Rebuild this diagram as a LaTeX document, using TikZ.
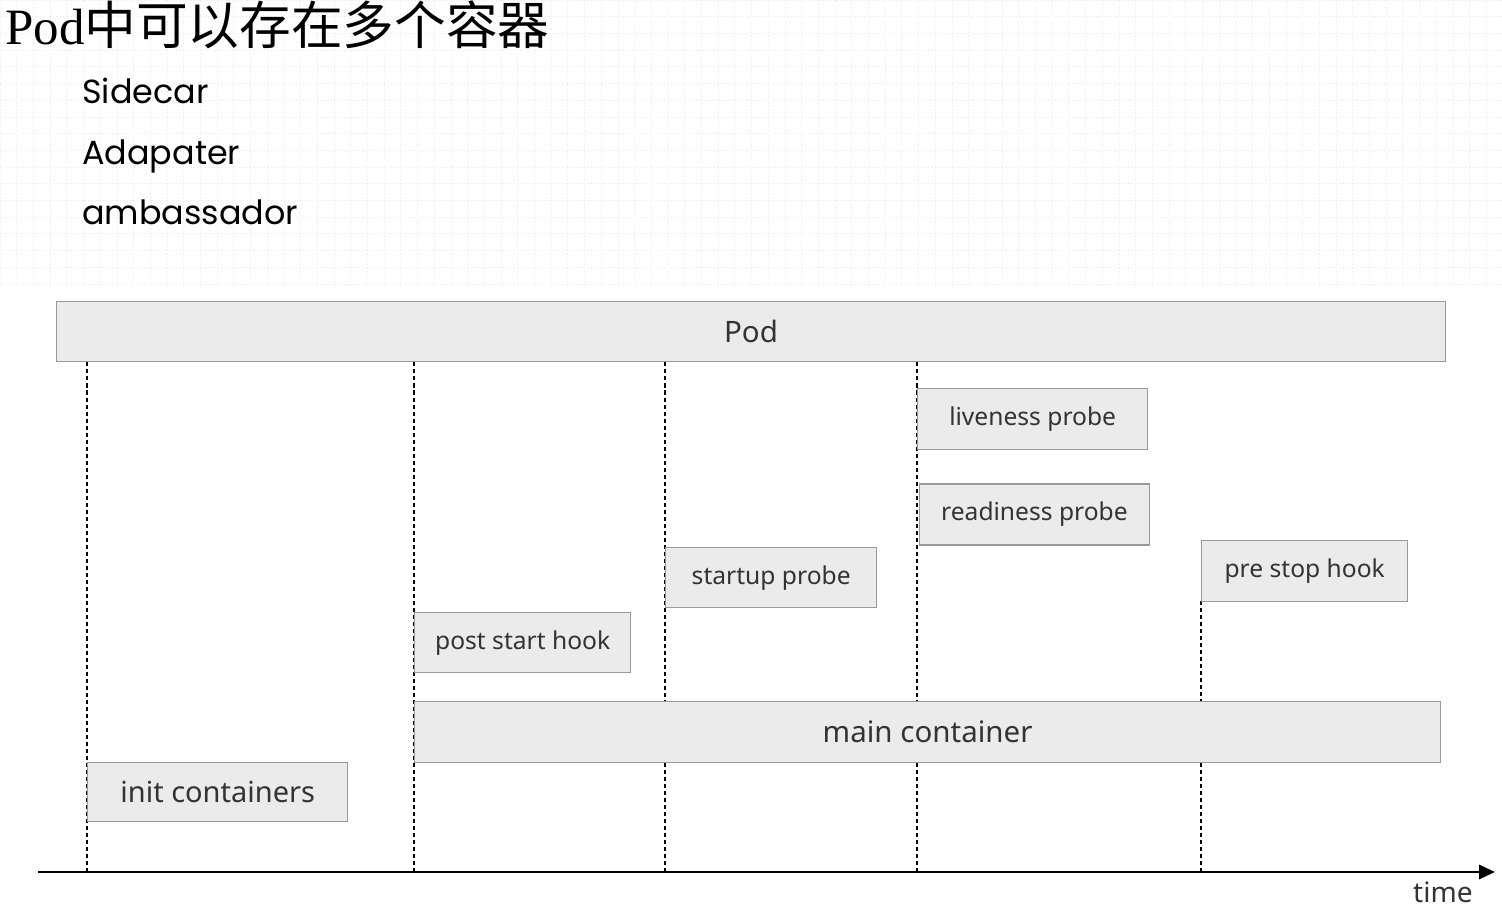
\documentclass[tikz,border=0pt]{standalone}
\usepackage{fontspec}
\setmainfont{Noto Sans}
\newfontfamily\cjk{Noto Sans CJK SC}
\newfontfamily\serif{Liberation Serif}
\newfontfamily\hand{Poppins}
\usetikzlibrary{arrows.meta,positioning}
\definecolor{boxfill}{HTML}{EBEBEB}
\definecolor{boxline}{HTML}{999999}
\definecolor{boxtext}{HTML}{333333}

\begin{document}
\begin{tikzpicture}[x=0.02cm,y=-0.02cm,
  box/.style={draw=boxline,fill=boxfill,line width=0.8pt,text=boxtext,inner sep=0pt,
    anchor=north west,font=\fontsize{14}{16}\selectfont},
  bigbox/.style={box,font=\fontsize{16.8}{19}\selectfont},
  guide/.style={line width=0.6pt,dash pattern=on 2.3pt off 1.7pt},
  gridline/.style={black!6,line width=0.4pt,dash pattern=on 1pt off 1pt},
  lst/.style={anchor=base west,inner sep=0pt,font=\hand\fontsize{19}{22}\selectfont}]
\useasboundingbox (0,0) rectangle (1502,911);
% faint board grid at the top
\foreach \i in {0,...,90} \draw[gridline] (\i*16.7,0) -- (\i*16.7,285);
\foreach \j in {0,...,17} \draw[gridline] (0,\j*16.7) -- (1502,\j*16.7);
% heading
\node[anchor=base west,inner sep=0pt] (title) at (5,45)
  {\serif\fontsize{29}{31}\selectfont Pod\cjk\fontsize{29.4}{31}\selectfont 中可以存在多个容器};
\node[lst] (side) at (82,104) {Sidecar};
\node[lst] (adapt) at (82,165) {Adapater};
\node[lst] (amb) at (82,225) {ambassador};
% time axis
\coordinate (t0) at (87,872);
\coordinate (t1) at (414,872);
\coordinate (t2) at (665,872);
\coordinate (t3) at (917,872);
\coordinate (t4) at (1201,872);
\coordinate (ax0) at (38,872);
\coordinate (ax1) at (1495,872);
\node[bigbox,minimum width=27.78cm,minimum height=1.2cm] (pod) at (56,301) {Pod};
\foreach \t in {t0,t1,t2,t3} \draw[guide] (\t |- pod.south) -- (\t);
\draw[guide] (1201,601) -- (t4);
\node[box,minimum width=4.6cm,minimum height=1.22cm] (live) at (917,388) {liveness probe};
\node[box,minimum width=4.6cm,minimum height=1.22cm,anchor=north,below=0.66cm of live.south,xshift=1] (ready) {readiness probe};
\node[box,minimum width=4.22cm,minimum height=1.2cm] (start) at (665,547) {startup probe};
\node[box,minimum width=4.12cm,minimum height=1.22cm] (stop) at (1201,540) {pre stop hook};
\node[box,minimum width=4.32cm,minimum height=1.2cm] (post) at (414,612) {post start hook};
\node[bigbox,minimum width=20.52cm,minimum height=1.22cm] (main) at (414,701) {main container};
\node[bigbox,minimum width=5.2cm,minimum height=1.18cm,font=\fontsize{16.5}{18}\selectfont] (init) at (87,762) {init containers};
\draw[line width=1.6pt,-{Triangle[length=9pt,width=8pt]}] (ax0) -- (ax1);
\node[font=\fontsize{16}{18}\selectfont,text=boxtext] (time) at (1443,892) {time};
\end{tikzpicture}
\end{document}
